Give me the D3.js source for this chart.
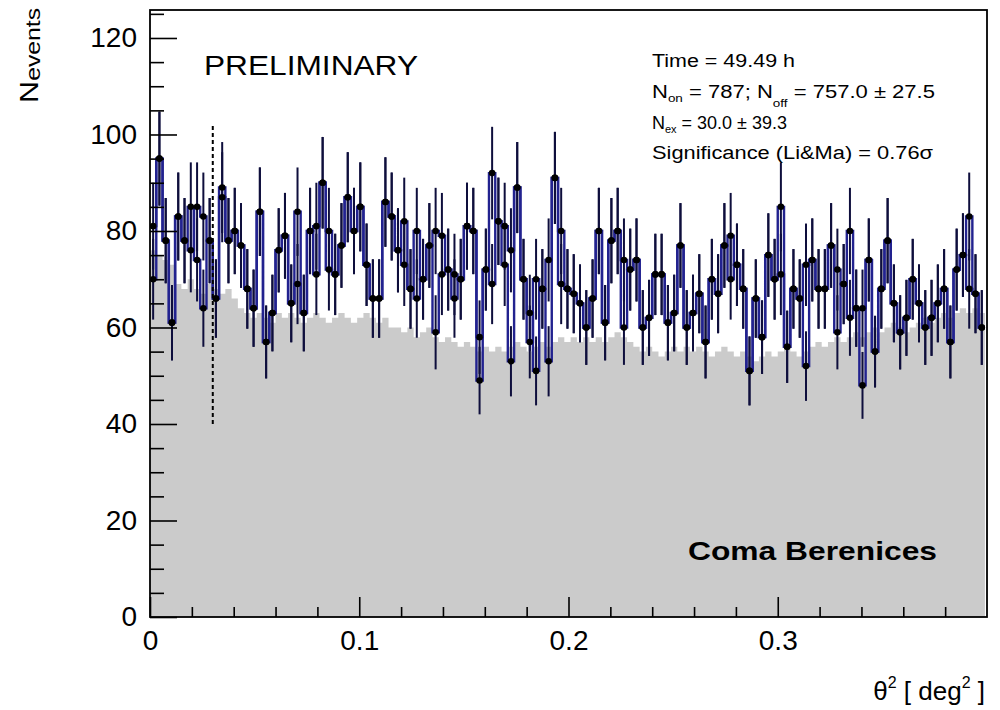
<!DOCTYPE html>
<html lang="en">
<head>
    <meta charset="UTF-8">
    <title>theta2 Coma Berenices</title>
    <script src="https://d3js.org/d3.v7.min.js"></script>
    <style>
        body { margin: 0; background: #fff; }
        text { font-family: 'Liberation Sans', Arial, Helvetica, sans-serif; fill: #000; }
        .axis path { display: none; }
        .axis line { stroke: #000; stroke-width: 1.6; }
        .axis text { font-size: 28px; font-family: 'Liberation Sans', Arial, sans-serif; }
    </style>
</head>
<body>
<svg width="1000" height="710"></svg>
<script>
    // histogram binning in theta^2 [deg^2]
    const binWidth = 0.003;

    // ON events per bin
    const onCounts = [81, 95, 78, 61, 83, 78, 76, 85, 83, 78,
        66, 89, 78, 80, 77, 68, 64, 84, 57, 63,
        76, 79, 65, 84, 63, 80, 81, 90, 80, 71,
        77, 87, 80, 85, 73, 66, 66, 86, 83, 76,
        82, 68, 80, 70, 77, 80, 79, 72, 66, 70,
        81, 80, 49, 72, 92, 82, 81, 76, 89, 70,
        57, 70, 68, 53, 91, 80, 68, 67, 65, 60,
        66, 80, 61, 78, 80, 74, 72, 74, 60, 62,
        71, 71, 61, 63, 77, 60, 63, 67, 57, 70,
        67, 77, 79, 73, 68, 51, 66, 58, 75, 70,
        85, 56, 68, 66, 52, 74, 68, 68, 77, 72,
        69, 80, 64, 48, 74, 55, 68, 78, 65, 59,
        62, 70, 65, 60, 62, 65, 68, 57, 72, 75,
        83, 67, 60];

    // OFF events per bin (second set of points, often on top of the ON ones)
    const offCounts = [70, 95, 78, 61, 83, 78, 85, 74, 64, 78,
        66, 87, 78, 80, 77, 68, 64, 84, 57, 63,
        76, 79, 65, 69, 63, 80, 71, 90, 72, 71,
        77, 87, 80, 85, 73, 66, 66, 86, 83, 76,
        73, 68, 66, 70, 77, 59, 71, 72, 71, 70,
        81, 80, 58, 72, 69, 82, 73, 53, 89, 70,
        63, 51, 68, 74, 91, 69, 68, 67, 65, 60,
        66, 80, 61, 78, 80, 60, 72, 74, 60, 62,
        71, 71, 61, 63, 77, 60, 63, 67, 57, 70,
        67, 77, 70, 73, 68, 51, 66, 58, 75, 70,
        71, 56, 68, 66, 73, 74, 68, 68, 77, 59,
        69, 62, 64, 64, 74, 55, 68, 78, 65, 59,
        62, 70, 65, 60, 62, 65, 68, 57, 72, 75,
        68, 67, 60];

    // grey filled background histogram
    const bgCounts = [76, 75, 74, 73, 69, 68, 70, 68, 67, 69,
        68, 67, 68, 66, 64, 63, 62, 63, 62, 61,
        63, 62, 63, 62, 61, 62, 63, 62, 61, 62,
        63, 62, 61, 62, 63, 62, 61, 62, 60, 60,
        59, 60, 58, 59, 60, 58, 57, 58, 57, 56,
        57, 56, 55, 56, 55, 56, 55, 56, 57, 56,
        55, 56, 57, 56, 57, 58, 57, 58, 57, 58,
        57, 58, 57, 58, 59, 58, 57, 56, 55, 56,
        55, 54, 55, 56, 55, 56, 55, 56, 55, 54,
        55, 56, 55, 54, 55, 54, 53, 54, 55, 54,
        55, 56, 55, 54, 55, 56, 57, 56, 57, 58,
        57, 58, 59, 58, 59, 60, 59, 60, 61, 60,
        59, 60, 61, 62, 61, 62, 63, 62, 63, 64,
        63, 64, 63];

    const xMajor = [0, 0.1, 0.2, 0.3];
    const xMinor = [0.02, 0.04, 0.06, 0.08, 0.12, 0.14, 0.16, 0.18, 0.22, 0.24, 0.26, 0.28, 0.32, 0.34, 0.36, 0.38];
    const yMajor = [0, 20, 40, 60, 80, 100, 120];
    const yMinor = [5, 10, 15, 25, 30, 35, 45, 50, 55, 65, 70, 75, 85, 90, 95, 105, 110, 115, 125];
    const cutValue = 0.03;           // theta^2 cut (dashed line)
    const cutLineRange = [40, 102];
    // [text, font size, dy]
    const statLines = [
        [["Time = 49.49 h", 18, 0]],
        [["N", 18, 0], ["on", 11, 4], [" = 787; N", 18, -4], ["off", 11, 9], [" = 757.0 \u00b1 27.5", 18, -9]],
        [["N", 18, 0], ["ex", 11, 4], [" = 30.0 \u00b1 39.3", 18, -4]],
        [["Significance (Li&Ma) = 0.76\u03c3", 18, 0]]
    ];
    const statLengths = [143, 283, 135, 281];
    const statBaselines = [67, 98, 129, 159];

    const svg = d3.select("svg");
    const pLeft = 150, pRight = 987, pTop = 10, pBottom = 617;

    const x = d3.scaleLinear().domain([0, 0.4]).range([pLeft, pRight]);
    const y = d3.scaleLinear().domain([0, 125.8]).range([pBottom, pTop]);

    svg.append("clipPath").attr("id", "plotclip")
        .append("rect").attr("x", pLeft).attr("y", pTop)
        .attr("width", pRight - pLeft).attr("height", pBottom - pTop);

    const plot = svg.append("g").attr("clip-path", "url(#plotclip)");

    // step points of a histogram
    function steps(counts) {
        const pts = [];
        counts.forEach((c, i) => {
            pts.push([i * binWidth, c]);
            pts.push([(i + 1) * binWidth, c]);
        });
        return pts;
    }

    plot.append("path")
        .datum(steps(bgCounts))
        .attr("fill", "#cbcbcb")
        .attr("d", d3.area().x(d => x(d[0])).y0(y(0)).y1(d => y(d[1])));

    const stepLine = d3.line().x(d => x(d[0])).y(d => y(d[1]));
    [offCounts, onCounts].forEach(counts => {
        plot.append("path")
            .datum(steps(counts))
            .attr("fill", "none")
            .attr("stroke", "#22228f")
            .attr("stroke-width", 2.4)
            .attr("d", stepLine);
    });

    const pts = onCounts.concat(offCounts)
        .map((c, i) => ({xc: (i % onCounts.length + 0.5) * binWidth, v: c, e: Math.sqrt(c)}));

    plot.selectAll("line.err").data(pts).enter().append("line")
        .attr("class", "err")
        .attr("x1", d => x(d.xc)).attr("x2", d => x(d.xc))
        .attr("y1", d => y(d.v - d.e)).attr("y2", d => y(d.v + d.e))
        .attr("stroke", "#0e0e3c").attr("stroke-width", 2);

    plot.selectAll("circle").data(pts).enter().append("circle")
        .attr("cx", d => x(d.xc)).attr("cy", d => y(d.v))
        .attr("r", 3.3).attr("fill", "#000");

    svg.append("line")
        .attr("x1", x(cutValue)).attr("x2", x(cutValue))
        .attr("y1", y(cutLineRange[0])).attr("y2", y(cutLineRange[1]))
        .attr("stroke", "#000").attr("stroke-width", 2)
        .attr("stroke-dasharray", "4,3");

    // axes (ROOT style, ticks inside the frame)
    svg.append("g").attr("class", "axis")
        .attr("transform", `translate(${pLeft},0)`)
        .call(d3.axisLeft(y).tickValues(yMajor).tickSize(-27).tickPadding(13));
    svg.append("g").attr("class", "axis")
        .attr("transform", `translate(${pLeft},0)`)
        .call(d3.axisLeft(y).tickValues(yMinor).tickSize(-14).tickFormat(""));
    svg.append("g").attr("class", "axis")
        .attr("transform", `translate(0,${pBottom})`)
        .call(d3.axisBottom(x).tickValues(xMajor).tickSize(-20).tickPadding(13)
            .tickFormat(d => d === 0 ? "0" : d3.format(".1f")(d)));
    svg.append("g").attr("class", "axis")
        .attr("transform", `translate(0,${pBottom})`)
        .call(d3.axisBottom(x).tickValues(xMinor).tickSize(-10).tickFormat(""));

    svg.append("rect")
        .attr("x", pLeft).attr("y", pTop)
        .attr("width", pRight - pLeft).attr("height", pBottom - pTop)
        .attr("fill", "none").attr("stroke", "#000").attr("stroke-width", 1.8);

    // titles
    const yt = svg.append("text")
        .attr("transform", "translate(38,8) rotate(-90)")
        .attr("text-anchor", "end")
        .attr("textLength", 95).attr("lengthAdjust", "spacingAndGlyphs");
    yt.append("tspan").attr("font-size", 26).text("N");
    yt.append("tspan").attr("font-size", 21).attr("dy", 2).text("events");

    const xt = svg.append("text")
        .attr("x", 985).attr("y", 700)
        .attr("text-anchor", "end").attr("font-size", 26);
    xt.append("tspan").text("\u03b8");
    xt.append("tspan").attr("font-size", 16).attr("dy", -12).text("2");
    xt.append("tspan").attr("dy", 12).text(" [ deg");
    xt.append("tspan").attr("font-size", 16).attr("dy", -12).text("2");
    xt.append("tspan").attr("dy", 12).text(" ]");

    svg.append("text")
        .attr("x", 204).attr("y", 75).attr("font-size", 27)
        .attr("textLength", 214).attr("lengthAdjust", "spacingAndGlyphs")
        .text("PRELIMINARY");

    statLines.forEach((parts, k) => {
        const t = svg.append("text")
            .attr("x", 652).attr("y", statBaselines[k])
            .attr("textLength", statLengths[k]).attr("lengthAdjust", "spacingAndGlyphs");
        parts.forEach(p => {
            t.append("tspan").attr("font-size", p[1]).attr("dy", p[2]).text(p[0]);
        });
    });

    svg.append("text")
        .attr("x", 688).attr("y", 560).attr("font-size", 26).attr("font-weight", "bold")
        .attr("textLength", 249).attr("lengthAdjust", "spacingAndGlyphs")
        .text("Coma Berenices");
</script>
</body>
</html>
